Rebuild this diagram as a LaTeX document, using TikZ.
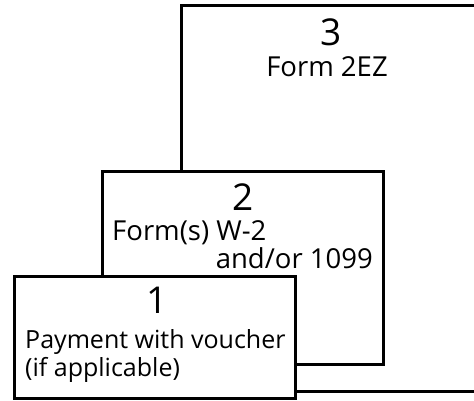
\documentclass[tikz,border=0pt]{standalone}
\usepackage{fontspec}
\setmainfont{Open Sans}
\usepackage{tikz}

\begin{document}
\begin{tikzpicture}[x=1pt,y=-1pt,
    formbox/.style={draw=black, fill=white, line width=3pt},
    numtext/.style={inner sep=0pt, font=\fontsize{37}{37}\selectfont},
    formtext/.style={inner sep=0pt, font=\fontsize{27.5}{27.5}\selectfont},
    paytext/.style={inner sep=0pt, font=\fontsize{25}{25}\selectfont}]
\useasboundingbox (0,0) rectangle (474,400);
\clip (0,0) rectangle (474,400);
\draw[formbox] (181.5,5.5) rectangle (490,391.5);
\draw[formbox] (102.5,171.5) rectangle (383.5,364.5);
\draw[formbox] (14.5,276.5) rectangle (295.5,398.5);
\node[numtext, anchor=base] at (331,45) (n3) {3};
\node[formtext, anchor=base] at (327,76) (f3) {Form 2EZ};
\node[numtext, anchor=base] at (243,210) (n2) {2};
\node[formtext, anchor=base west] at (112,240) (f2a) {Form(s) W-2};
\node[formtext, anchor=base east] at (373,268) (f2b) {and/or 1099};
\node[numtext, anchor=base] at (157,313) (n1) {1};
\node[paytext, anchor=base west] at (25,348) (f1a) {Payment with voucher};
\node[paytext, anchor=base west] at (25,376) (f1b) {(if applicable)};
  \end{tikzpicture}
\end{document}
